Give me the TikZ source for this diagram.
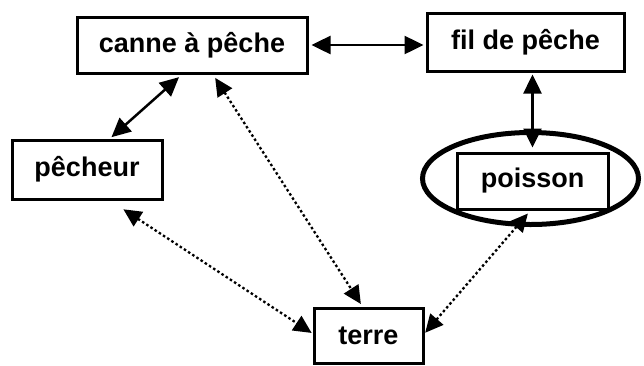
\documentclass[tikz,border=0pt]{standalone}
\usepackage{fontspec}
\setmainfont{Liberation Sans}
\usetikzlibrary{arrows.meta}
\begin{document}
\begin{tikzpicture}[x=1pt,y=-1pt,
  box/.style={draw,line width=3pt,rectangle,inner sep=0pt,
    font=\fontsize{27}{30}\selectfont\bfseries},
  link/.style={line width=2.5pt,>={Triangle[length=19pt,width=18pt]},<->},
  loose/.style={line width=2.3pt,dash pattern=on 2.5pt off 2.5pt,
    >={Triangle[length=18pt,width=17pt]},<->}]
\useasboundingbox (0,0) rectangle (644,365);

% concept boxes
\node[box,minimum width=230pt,minimum height=56pt] (canne) at (192,45) {canne à pêche};
\node[box,minimum width=197pt,minimum height=58pt] (fil) at (525.5,42) {fil de pêche};
\node[box,minimum width=150pt,minimum height=59pt] (pecheur) at (87,169.5) {pêcheur};
\node[box,minimum width=151pt,minimum height=56pt] (poisson) at (532.5,181) {poisson};
\node[box,minimum width=109pt,minimum height=55pt] (terre) at (368.5,335.5) {terre};

% ring around the fish
\draw[line width=5pt] (poisson.center) ++(-2,-2.5) ellipse [x radius=108pt,y radius=46pt];

% solid links
\draw[link,shorten <=3pt,shorten >=2pt] (canne.east) -- (canne.east -| fil.west);
\draw[link,shorten <=4pt,shorten >=2pt] ([xshift=-10pt]canne.south) -- ([xshift=23pt]pecheur.north);
\draw[link,shorten <=2pt,shorten >=4pt] (poisson.north |- fil.south) -- (poisson.north);

% dotted links to the ground
\draw[loose,shorten <=4pt,shorten >=3pt] ([xshift=21pt]canne.south) -- ([xshift=-6pt]terre.north);
\draw[loose,shorten <=16pt,shorten >=1pt] ([xshift=23pt]pecheur.south) -- ([yshift=2pt]terre.west);
\draw[loose,shorten <=4pt,shorten >=1pt] ([xshift=-2pt]poisson.south) -- ([yshift=2pt]terre.east);
\end{tikzpicture}
\end{document}
